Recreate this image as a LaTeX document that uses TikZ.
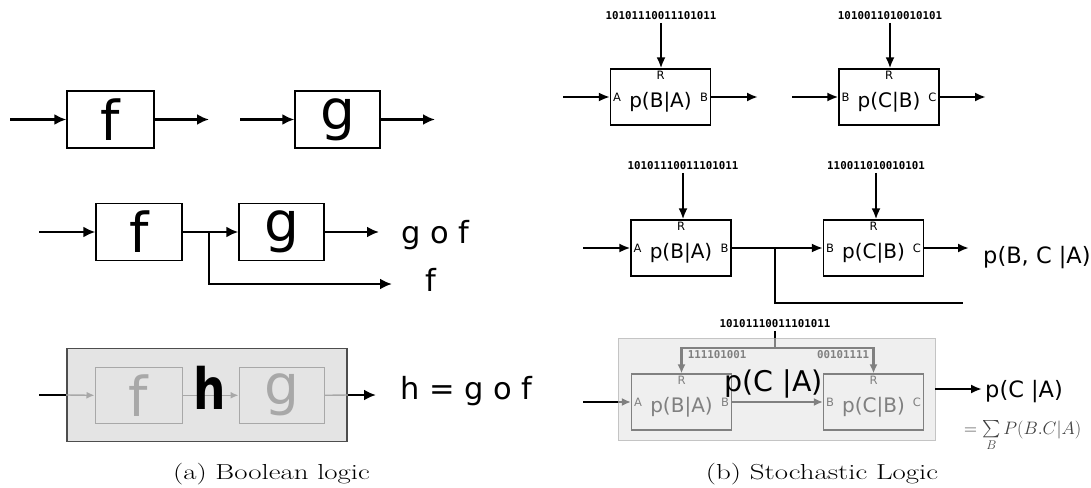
\documentclass[tikz,border=0pt]{standalone}
\usepackage{fix-cm}
\usepackage{exscale}
\usepackage{fontspec}
\usetikzlibrary{arrows.meta}
\newfontfamily\dvsans{DejaVu Sans}
\newfontfamily\bitmono{DejaVu Sans Mono}
\definecolor{boolfill}{HTML}{E4E4E4}
\definecolor{boolline}{HTML}{4D4D4D}
\definecolor{boolghost}{HTML}{A8A8A8}
\definecolor{stochfill}{HTML}{EFEFEF}
\definecolor{stochline}{HTML}{C4C4C4}
\definecolor{stochghost}{HTML}{808080}
\begin{document}
\begin{tikzpicture}[x=1pt,y=-1pt]

    \tikzset{
      block/.style={
        draw,
        line width=1.3pt,
        minimum width=87pt,
        minimum height=57pt,
        inner sep=0pt,
        font=\dvsans\fontsize{55}{60}\selectfont,
      },
      wire/.style={line width=2.7pt, -{Latex[length=12pt,width=11pt]}},
      ghostwire/.style={line width=1.4pt, draw=boolghost, -{Latex[length=8pt,width=7pt]}},
      label/.style={font=\dvsans\fontsize{30.5}{34}\selectfont, inner sep=0pt},
      pblock/.style={
        draw,
        line width=1.2pt,
        minimum width=100pt,
        minimum height=56pt,
        inner sep=0pt,
        text height=24.2pt,
        text depth=2.6pt,
        font=\dvsans\fontsize{20}{22}\selectfont,
      },
      port/.style={font=\dvsans\fontsize{11.5}{13}\selectfont, inner sep=3pt},
      bits/.style={font=\bitmono\bfseries\fontsize{10.8}{12}\selectfont, inner sep=2.5pt},
      pwire/.style={line width=2.4pt, -{Latex[length=11pt,width=9pt]}},
      gwire/.style={line width=1.8pt, draw=stochghost, -{Latex[length=9pt,width=8pt]}},
      plabel/.style={font=\dvsans\fontsize{22.5}{26}\selectfont, inner sep=0pt},
      caption/.style={font=\rmfamily\fontsize{21.7}{24}\selectfont, inner sep=0pt},
    }
    \useasboundingbox (0,0) rectangle (1091,487);

    \node[block] (f1) at (110.5,119.5) {f};
    \node[block, minimum width=85pt] (g1) at (337.5,119.5) {g};
    \coordinate (f1in) at (10,119.5);
    \coordinate (f1out) at (209,119.5);
    \coordinate (g1in) at (240,119.5);
    \coordinate (g1out) at (435,119.5);
    \draw[wire] (f1in) -- (f1.west);
    \draw[wire] (f1.east) -- (f1out);
    \draw[wire] (g1in) -- (g1.west);
    \draw[wire] (g1.east) -- (g1out);

    \node[block, minimum width=86pt] (f2) at (139,232) {f};
    \node[block, minimum width=85pt] (g2) at (281.5,232) {g};
    \coordinate (f2in) at (39,232);
    \coordinate (split) at (209,232);
    \coordinate (gfout) at (379,232);
    \coordinate (fout) at (392,284);
    \draw[wire] (f2in) -- (f2.west);
    \draw[wire] (f2.east) -- (g2.west);
    \draw[wire] (split) |- (fout);
    \draw[wire] (g2.east) -- (gfout);
    \node[label] (gof) at (435.5,235) {g o f};
    \node[label] (flab) at (431,280) {f};

    \node[draw=boolline, fill=boolfill, line width=1.6pt, minimum width=280pt, minimum height=93pt] (h) at (207,395) {};
    \node[block, draw=boolghost, text=boolghost, line width=1pt, minimum height=56pt] (f3) at (138.5,395.3) {f};
    \node[block, draw=boolghost, text=boolghost, line width=1pt, minimum height=56pt, minimum width=85pt] (g3) at (281.5,395.3) {g};
    \coordinate (hin) at (39,395);
    \coordinate (hout) at (376,395);
    \draw[line width=2.7pt] (hin) -- (h.west);
    \draw[ghostwire] (h.west) -- (f3.west);
    \draw[ghostwire] (f3.east) -- (g3.west);
    \draw[line width=1.4pt, draw=boolghost] (g3.east) -- (h.east);
    \draw[wire] (h.east) -- (hout);
    \node[inner sep=0pt, font=\dvsans\bfseries\fontsize{57}{60}\selectfont] (hname) at (210,388.3) {\scalebox{0.8}[1]{h}};
    \node[label, anchor=west] (hdef) at (400,391) {h = g o f};

    \node[pblock] (pba1) at (660.5,97) {p(B|A)};
    \node[pblock] (pcb1) at (889,97) {p(C|B)};
    \node[port, anchor=west] (a1) at (pba1.west) {A};
    \node[port, anchor=east] (b1) at (pba1.east) {B};
    \node[port, anchor=north] (r1) at (pba1.north) {R};
    \node[port, anchor=west] (b2) at (pcb1.west) {B};
    \node[port, anchor=east] (c2) at (pcb1.east) {C};
    \node[port, anchor=north] (r2) at (pcb1.north) {R};
    \node[bits] (rnd1) at (661,16) {10101110011101011};
    \node[bits] (rnd2) at (890,16) {1010011010010101};
    \coordinate (in1) at (563,97);
    \coordinate (out1) at (758,97);
    \coordinate (in2) at (792,97);
    \coordinate (out2) at (986,97);
    \draw[pwire] (rnd1) -- (rnd1 |- pba1.north);
    \draw[pwire] (rnd2) -- (rnd2 |- pcb1.north);
    \draw[pwire] (in1) -- (pba1.west);
    \draw[pwire] (pba1.east) -- (out1);
    \draw[pwire] (in2) -- (pcb1.west);
    \draw[pwire] (pcb1.east) -- (out2);

    \node[pblock] (pba2) at (681,248) {p(B|A)};
    \node[pblock] (pcb2) at (873.5,248) {p(C|B)};
    \node[port, anchor=west] (a3) at (pba2.west) {A};
    \node[port, anchor=east] (b3) at (pba2.east) {B};
    \node[port, anchor=north] (r3) at (pba2.north) {R};
    \node[port, anchor=west] (b4) at (pcb2.west) {B};
    \node[port, anchor=east] (c4) at (pcb2.east) {C};
    \node[port, anchor=north] (r4) at (pcb2.north) {R};
    \node[bits] (rnd3) at (683,166) {10101110011101011};
    \node[bits] (rnd4) at (876,166) {110011010010101};
    \coordinate (in3) at (583,248);
    \coordinate (split2) at (775,248);
    \coordinate (out3) at (969,248);
    \coordinate (tap) at (963,303);
    \draw[pwire] (rnd3) -- (rnd3 |- pba2.north);
    \draw[pwire] (rnd4) -- (rnd4 |- pcb2.north);
    \draw[pwire] (in3) -- (pba2.west);
    \draw[pwire] (pba2.east) -- (pcb2.west);
    \draw[line width=2.4pt] (split2) |- (tap);
    \draw[pwire] (pcb2.east) -- (out3);
    \node[plabel, anchor=west] (pbc) at (983,258) {p(B, C |A)};

    \node[draw=stochline, fill=stochfill, line width=0.8pt, minimum width=317pt, minimum height=102pt] (stoch) at (776.5,389) {};
    \node[pblock, draw=stochghost, text=stochghost] (pba3) at (681.5,402) {p(B|A)};
    \node[pblock, draw=stochghost, text=stochghost] (pcb3) at (873.5,402) {p(C|B)};
    \node[port, text=stochghost, anchor=west] (a5) at (pba3.west) {A};
    \node[port, text=stochghost, anchor=east] (b5) at (pba3.east) {B};
    \node[port, text=stochghost, anchor=north] (r5) at (pba3.north) {R};
    \node[port, text=stochghost, anchor=west] (b6) at (pcb3.west) {B};
    \node[port, text=stochghost, anchor=east] (c6) at (pcb3.east) {C};
    \node[port, text=stochghost, anchor=north] (r6) at (pcb3.north) {R};
    \node[bits] (rnd5) at (775,324) {10101110011101011};
    \node[bits, text=stochghost] (rnd6) at (717,355) {111101001};
    \node[bits, text=stochghost] (rnd7) at (843,355) {00101111};
    \coordinate (bar) at (775,348);
    \coordinate (in5) at (583,402);
    \coordinate (out5) at (982,389);
    \draw[line width=2.2pt] (rnd5) -- (rnd5 |- stoch.north);
    \draw[line width=2.2pt, draw=stochghost] (rnd5 |- stoch.north) -- (bar);
    \draw[line width=2.2pt, draw=stochghost, {Latex[length=9pt,width=8pt]}-{Latex[length=9pt,width=8pt]}] (pba3.north) -- (pba3.north |- bar) -- (pcb3.north |- bar) -- (pcb3.north);
    \draw[line width=2.4pt] (in5) -- (in5 -| stoch.west);
    \draw[gwire] (in5 -| stoch.west) -- (pba3.west);
    \draw[gwire] (pba3.east) -- (pcb3.west);
    \draw[pwire] (stoch.east) -- (out5);
    \node[inner sep=0pt, font=\dvsans\fontsize{28.5}{32}\selectfont] (pca) at (773.5,383.5) {p(C |A)};
    \node[plabel, anchor=west] (pca2) at (985,391.5) {p(C |A)};
    \node[anchor=base west, inner sep=0pt, text=black!75, font=\fontsize{18}{20}\selectfont] (marg) at (964,434) {$=\sum\limits_{B} P(B.C|A)$};

    \node[caption] (capa) at (271.5,474) {\scalebox{1.33}[1]{(a) Boolean logic}};
    \node[caption] (capb) at (822,474) {\scalebox{1.33}[1]{(b) Stochastic Logic}};

\end{tikzpicture}
\end{document}
